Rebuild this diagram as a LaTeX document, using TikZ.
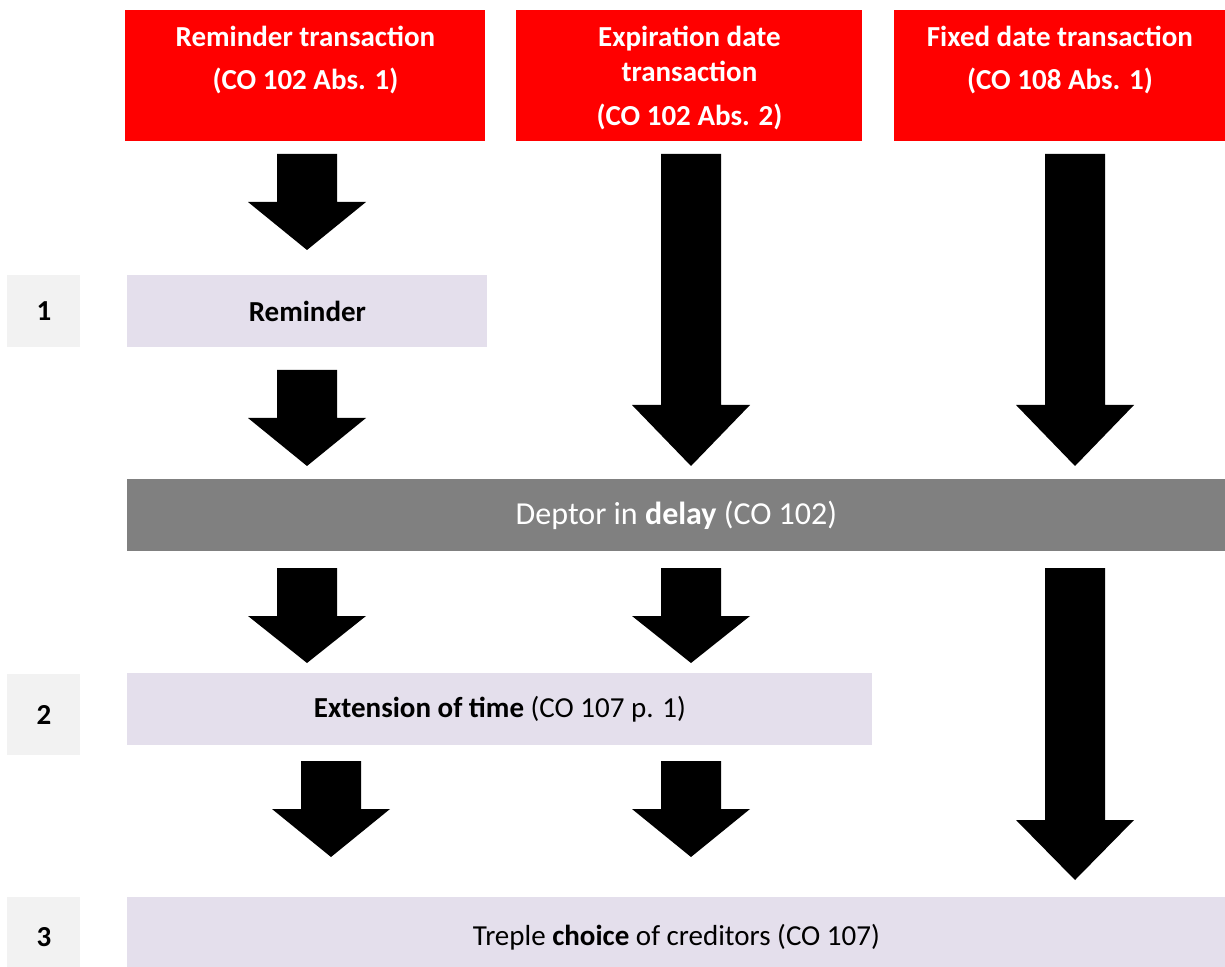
\documentclass[tikz,border=0pt]{standalone}
\usepackage{fontspec}
\setmainfont{Carlito}
\usetikzlibrary{positioning}
\definecolor{redm}{HTML}{FF0000}
\definecolor{lavm}{HTML}{E4DFEC}
\definecolor{grym}{HTML}{808080}
\definecolor{numm}{HTML}{F2F2F2}

\begin{document}
\begin{tikzpicture}[x=0.5pt, y=-0.5pt,
        box/.style={draw=none, inner sep=0pt, anchor=north west},
        headbox/.style={box, fill=redm, minimum height=65.5pt},
        headtext/.style={inner sep=0pt, align=center, text=white,
            font=\fontsize{14.5}{17.4}\selectfont\bfseries},
        stepbox/.style={box, fill=lavm, minimum height=36pt,
            font=\fontsize{14.5}{17.4}\selectfont},
        numbox/.style={box, fill=numm, minimum width=36.5pt,
            font=\fontsize{14.5}{17.4}\selectfont\bfseries}]
        \clip (0,0) rectangle (1225,967);
        \useasboundingbox (0,0) rectangle (1225,967);
        % the three kinds of transaction
        \node[headbox, minimum width=180pt] (rem) at (125,10) {};
        \node[headbox, minimum width=173pt] (exp) at (516,10) {};
        \node[headbox, minimum width=165.5pt] (fix) at (894,10) {};
        \node[headtext, below=8pt of rem.north] (remt) {Reminder transaction\\[4pt](CO 102 Abs. 1)};
        \node[headtext, below=8pt of exp.north] (expt) {Expiration date\\transaction\\[4.5pt](CO 102 Abs. 2)};
        \node[headtext, below=8pt of fix.north] (fixt) {Fixed date transaction\\[4pt](CO 108 Abs. 1)};
        % steps
        \node[numbox, minimum height=36pt] (n1) at (7,275) {1};
        \node[numbox, minimum height=40.5pt] (n2) at (7,674) {2};
        \node[numbox, minimum height=40pt] (n3) at (7,897) {3};
        \node[stepbox, minimum width=180pt] (remind) at (127,275) {\textbf{Reminder}};
        \node[box, fill=grym, text=white, minimum width=549pt, minimum height=36pt,
            font=\fontsize{16}{19.2}\selectfont] (delay) at (127,479) {Deptor in \textbf{delay} (CO 102)};
        \node[stepbox, minimum width=372.5pt] (ext) at (127,673) {\textbf{Extension of time} (CO 107 p. 1)};
        \node[stepbox, minimum width=549pt, minimum height=40pt] (choice) at (127,897) {Treple \textbf{choice} of creditors (CO 107)};
        % block arrows: centre/top/tip/head length
        \foreach \x/\t/\b/\h in {307/154/250/48, 307/370/466/48, 691/154/466/61,
                1075/154/466/61, 307/568/663/47, 691/568/663/47, 1075/568/880/60,
                331/761/857/48, 691/761/857/48}
            \fill[black] (\x-30,\t) -- (\x+30,\t) -- (\x+30,\b-\h) -- (\x+59,\b-\h)
                -- (\x,\b) -- (\x-59,\b-\h) -- (\x-30,\b-\h) -- cycle;
\end{tikzpicture}
\end{document}
